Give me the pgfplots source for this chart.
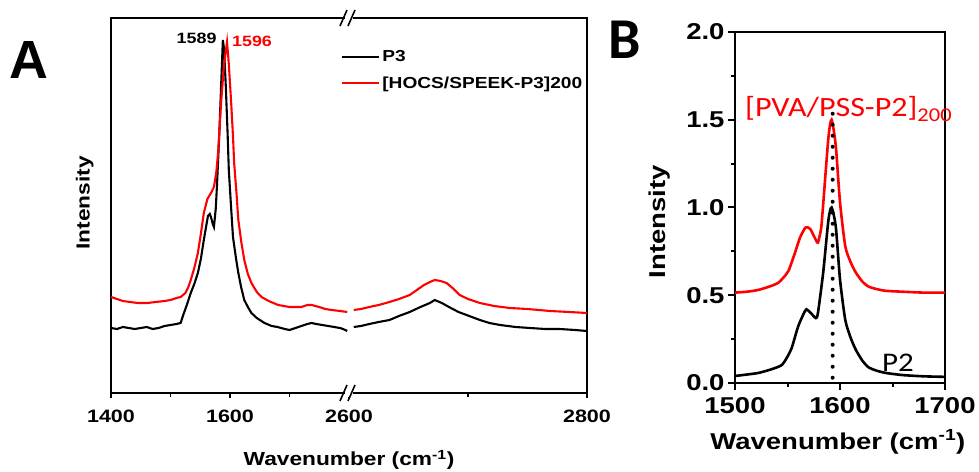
\documentclass[border=0pt]{standalone}
\usepackage{pgfplots}
\pgfplotsset{compat=1.18}
\usepackage{pgfplotstable}
\usepackage{fontspec}
\setmainfont{Liberation Sans}[FakeStretch=1.2]
\newfontfamily\plainfont{Liberation Sans}
\newfontfamily\califont{Carlito}[FakeStretch=1.15]
\newfontfamily\calibold{Carlito}
\newcommand\fs[1]{\fontsize{#1}{#1}\selectfont}

% right-hand segment of panel A (2600-2800), plotted at 1800+2*(x-2600)
\pgfplotstableread{
x    y
2604 67
2610 68
2617 70
2625 72
2634 74
2642 78
2651 82
2660 87
2668 91
2672 94
2678 91
2684 87
2692 82
2701 78
2710 74
2718 71
2727 69
2740 67
2752 66
2765 65
2777 65
2790 64
2800 63
}\blackright
\pgfplotstableread{
x    y
2604 84
2610 85
2617 87
2625 89
2634 92
2642 95
2651 99
2657 104
2663 109
2668 112
2672 114
2677 113
2682 111
2688 105
2693 99
2700 95
2710 91
2722 88
2735 86
2750 85
2769 83
2785 82
2800 81
}\redright

\begin{document}
\begin{tikzpicture}
\useasboundingbox (0,0) rectangle (979bp,472bp);

% ---------------- panel A ----------------
\begin{axis}[
    name=pA,
    at={(111bp,79bp)}, anchor=south west,
    scale only axis, width=476bp, height=375bp,
    xmin=1400, xmax=2200, ymin=1, ymax=376,
    clip=false,
    axis line style={line width=2bp, black},
    xtick={1400,1600,1800,2200},
    xticklabels={1400,1600,2600,2800},
    minor xtick={1500,1700,2000},
    ytick={-100}, yticklabels={},
    xtick pos=bottom, ytick pos=left, tick align=outside,
    major tick length=5bp, minor tick length=4bp,
    every tick/.style={line width=1.6bp, black},
    xticklabel style={font=\bfseries\fs{18}, yshift=-8bp},
    xlabel={\bfseries Wavenumber (cm\textsuperscript{-1})},
    xlabel style={font=\fs{19}, at={(axis description cs:0.5,-0.179)}, anchor=center},
    ylabel={\bfseries Intensity},
    ylabel style={font=\fs{19}, at={(axis description cs:-0.055,0.507)}, anchor=center},
    legend style={at={(axis description cs:0.477,0.925)}, anchor=north west,
        draw=none, fill=none, font=\bfseries\fs{16},
        row sep=10bp, cells={anchor=west}},
    legend image code/.code={\draw[#1] (0bp,0bp) -- (37bp,0bp);},
]
\addplot[black, line width=2.1bp] coordinates {
(1400,66) (1410,65) (1420,67) (1430,66) (1440,65) (1450,66) (1460,67) (1470,65)
(1480,66) (1490,68) (1500,69) (1510,70) (1517,71) (1522,80) (1528,90) (1534,101)
(1540,110) (1546,121) (1551,135) (1556,154) (1560,168) (1563,178) (1566,180)
(1568,177) (1571,170) (1573,167) (1576,185) (1578,207) (1582,260) (1585,307)
(1588,354) (1590,345) (1593,307) (1596,260) (1598,224) (1602,185) (1605,157)
(1610,136) (1614,121) (1619,106) (1624,94) (1630,87) (1636,81) (1645,76)
(1658,71) (1670,68) (1680,67) (1692,65) (1700,64) (1710,66) (1720,68) (1730,70)
(1737,71) (1745,70) (1755,69) (1765,68) (1775,67) (1785,66) (1790,65) (1797,63)
};
\addlegendentry{P3}
\addplot[red, line width=2.1bp] coordinates {
(1400,97) (1410,95) (1420,93) (1432,92) (1445,91) (1461,91) (1475,92) (1490,93)
(1500,94) (1510,96) (1517,97) (1525,101) (1530,107) (1534,114) (1540,126)
(1546,141) (1551,160) (1556,181) (1562,195) (1568,201) (1573,207) (1577,222)
(1580,241) (1585,291) (1590,330) (1595,352) (1598,330) (1602,291) (1605,258)
(1607,231) (1611,200) (1614,174) (1619,152) (1624,134) (1630,120) (1636,111)
(1645,102) (1653,97) (1665,93) (1681,89) (1700,87) (1720,87) (1730,89) (1737,89)
(1750,87) (1760,85) (1771,84) (1785,83) (1797,82)
};
\addlegendentry{[HOCS/SPEEK-P3]200}
\addplot[black, line width=2.1bp, forget plot] table[x expr={1800+2*(\thisrow{x}-2600)}, y=y] {\blackright};
\addplot[red, line width=2.1bp, forget plot] table[x expr={1800+2*(\thisrow{x}-2600)}, y=y] {\redright};

\node[font=\bfseries\fs{15}, black] at (axis cs:1544,356) {1589};
\node[font=\bfseries\fs{15}, red] at (axis cs:1637,353) {1596};
\end{axis}

% axis breaks of panel A (at the middle of the bottom and top edges)
\foreach \pos in {pA.south, pA.north} {
  \fill[white] ([xshift=-4bp,yshift=-4bp]\pos) rectangle ([xshift=4bp,yshift=4bp]\pos);
  \draw[line width=1.6bp] ([xshift=-9bp,yshift=-8bp]\pos) -- ++(7bp,16bp);
  \draw[line width=1.6bp] ([xshift=-1bp,yshift=-8bp]\pos) -- ++(7bp,16bp);
}

% ---------------- panel B ----------------
\begin{axis}[
    at={(735bp,89bp)}, anchor=south west,
    scale only axis, width=210bp, height=351bp,
    xmin=1500, xmax=1700, ymin=0, ymax=2,
    clip=false,
    axis line style={line width=2.6bp},
    xtick={1500,1600,1700}, minor xtick={1550,1650},
    ytick={0,0.5,1,1.5,2}, minor ytick={0.25,0.75,1.25,1.75},
    tick pos=left, tick align=outside,
    major tick length=7bp, minor tick length=4bp,
    every tick/.style={line width=2bp, black},
    /pgf/number format/assume math mode=true,
    ticklabel style={font=\bfseries\fs{23}},
    xticklabel style={yshift=-4bp, /pgf/number format/.cd, set thousands separator={}},
    yticklabel style={/pgf/number format/.cd, fixed, fixed zerofill, precision=1},
    xlabel={\bfseries Wavenumber (cm\textsuperscript{-1})},
    xlabel style={font=\fs{23}, at={(axis description cs:0.49,-0.168)}, anchor=center},
    ylabel={\bfseries Intensity},
    ylabel style={font=\fs{23}, at={(axis description cs:-0.357,0.459)}, anchor=center},
]
\addplot[black, line width=2.6bp, smooth, tension=0.4] coordinates {
(1500,0.04) (1511,0.048) (1522,0.057) (1533,0.075) (1544,0.10) (1549,0.14)
(1554,0.20) (1560,0.32) (1565,0.39) (1568,0.42) (1572,0.40) (1577,0.37)
(1579,0.40) (1584,0.63) (1589,0.93) (1592,1.00) (1596,0.89) (1600,0.59)
(1605,0.36) (1610,0.26) (1615,0.19) (1621,0.13) (1627,0.09) (1635,0.07)
(1644,0.057) (1660,0.045) (1680,0.038) (1700,0.035)
};
\addplot[red, line width=2.6bp, smooth, tension=0.4] coordinates {
(1500,0.515) (1511,0.52) (1522,0.53) (1533,0.55) (1541,0.57) (1546,0.60)
(1551,0.64) (1557,0.74) (1562,0.83) (1567,0.885) (1570,0.885) (1572,0.875)
(1577,0.815) (1579,0.80) (1582,0.88) (1584,1.02) (1589,1.40) (1592,1.50)
(1596,1.35) (1600,1.03) (1605,0.78) (1610,0.69) (1615,0.63) (1621,0.58)
(1627,0.55) (1635,0.535) (1644,0.525) (1660,0.52) (1680,0.515) (1700,0.515)
};
\addplot[black, line width=4bp, line cap=round, dash pattern=on 0bp off 11bp] coordinates {
(1593,0.03) (1593,1.54)
};
\node[font=\califont\fs{28}, red, anchor=base west, inner sep=0pt] at (axis cs:1509.5,1.516) {[PVA/PSS-P2]\textsubscript{200}};
\node[font=\califont\fs{27}, black, anchor=base west, inner sep=0pt] at (axis cs:1640,0.068) {P2};
\end{axis}

\node[font=\plainfont\bfseries\fs{54}] at (29bp,412bp) {A};
\node[font=\calibold\bfseries\fs{58}] at (625bp,432bp) {B};
\end{tikzpicture}
\end{document}
